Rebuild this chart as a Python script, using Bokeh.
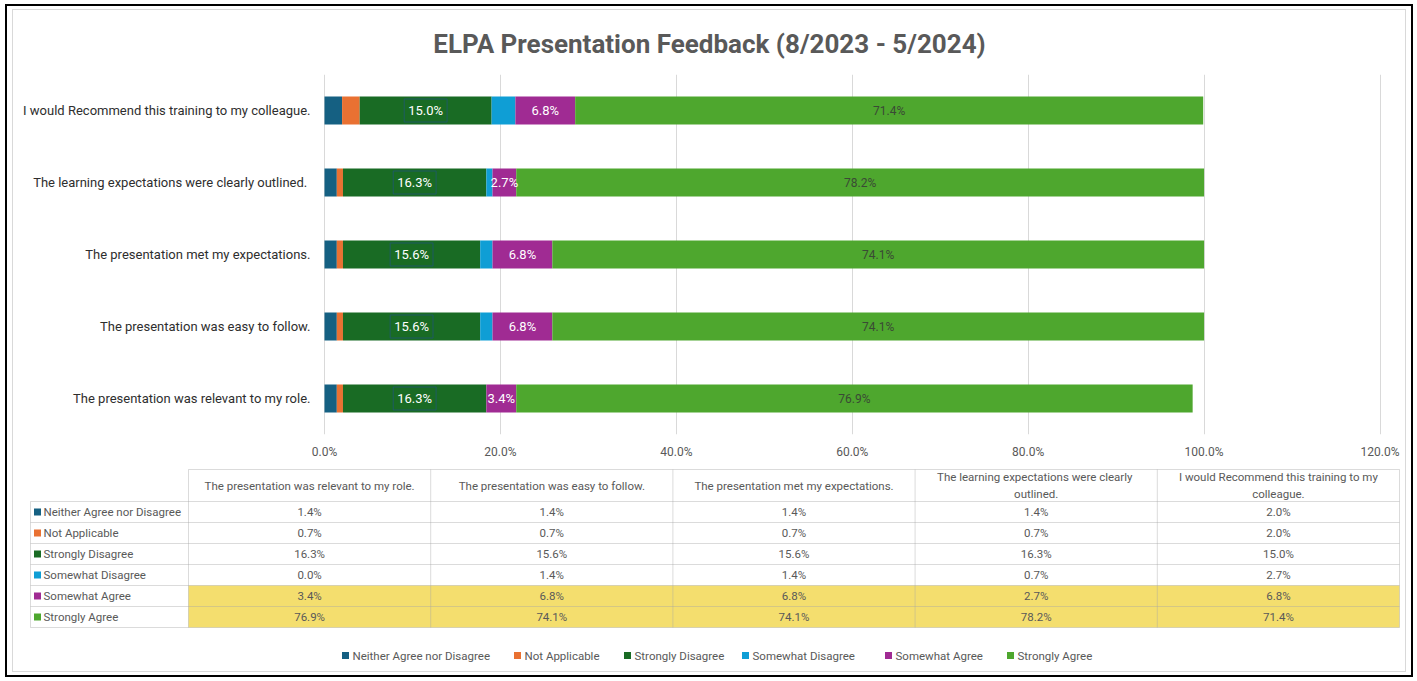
from bokeh.plotting import figure
from bokeh.layouts import column
from bokeh.models import ColumnDataSource, FactorRange, Range1d, FixedTicker, PrintfTickFormatter
from bokeh.core.properties import value
from bokeh.embed import file_html
from bokeh.resources import INLINE

# ---------------- data ----------------
questions = [
    "The presentation was relevant to my role.",
    "The presentation was easy to follow.",
    "The presentation met my expectations.",
    "The learning expectations  were clearly outlined.",
    "I would Recommend this training to my colleague.",
]
header_labels = [
    "The presentation was relevant to my role.",
    "The presentation was easy to follow.",
    "The presentation met my expectations.",
    "The learning expectations  were clearly\noutlined.",
    "I would Recommend this training to my\ncolleague.",
]
series = ["Neither Agree nor Disagree", "Not Applicable", "Strongly Disagree",
          "Somewhat Disagree", "Somewhat Agree", "Strongly Agree"]
neither = [1.4, 1.4, 1.4, 1.4, 2.0]
not_applicable = [0.7, 0.7, 0.7, 0.7, 2.0]
strongly_disagree = [16.3, 15.6, 15.6, 16.3, 15.0]
somewhat_disagree = [0.0, 1.4, 1.4, 0.7, 2.7]
somewhat_agree = [3.4, 6.8, 6.8, 2.7, 6.8]
strongly_agree = [76.9, 74.1, 74.1, 78.2, 71.4]
colors = ["#156082", "#E97132", "#196B24", "#0F9ED5", "#A02B93", "#4EA72E"]
x_ticks = [0, 20, 40, 60, 80, 100, 120]
title_text = "ELPA Presentation Feedback (8/2023 - 5/2024)"

values = [neither, not_applicable, strongly_disagree, somewhat_disagree, somewhat_agree, strongly_agree]
keys = ["s0", "s1", "s2", "s3", "s4", "s5"]

FONT = "Roboto"
GREY = "#595959"

# ---------------- layout (page pixels) ----------------
X0, X1 = 13, 1405          # content left / right
Y0, Y1 = 10, 671           # content top / bottom
SPLIT = 462                # boundary between chart and table
W = X1 - X0
PX0, PX120 = 324.0, 1379.5  # where 0 % and 120 % sit
k = (PX120 - PX0) / 120.0

# ---------------- bar chart ----------------
top = figure(width=W, height=SPLIT - Y0, y_range=FactorRange(*questions),
             x_range=Range1d(-(PX0 - X0) / k, 120 + (X1 - PX120) / k),
             output_backend="svg", toolbar_location=None,
             min_border_left=0, min_border_right=0, min_border_top=74 - Y0,
             min_border_bottom=SPLIT - 434)
top.outline_line_color = None
top.title.text = title_text
top.title.text_font = FONT
top.title.text_font_size = "26px"
top.title.text_font_style = "bold"
top.title.text_color = GREY
top.title.align = "center"
top.title.vertical_align = "top"
top.title.standoff = 27

src = ColumnDataSource(dict(q=questions, **{kk: v for kk, v in zip(keys, values)}))
top.hbar_stack(keys, y="q", height=0.39, color=colors, line_color=None, source=src)

# data labels (Strongly Disagree, Somewhat Agree, Strongly Agree)
cum = [[0.0] * len(questions)]
for v in values:
    cum.append([a + b for a, b in zip(cum[-1], v)])

def centers(i):
    return [(a + b) / 2 for a, b in zip(cum[i], cum[i + 1])]

def labels(i):
    return ["%.1f%%" % x for x in values[i]]

top.text(x=centers(2), y=questions, text=labels(2), text_align="center", text_baseline="middle",
         text_font=value(FONT), text_font_size="13px", text_color="#FFFFFF",
         border_line_color="#1F5A6A", border_line_alpha=0.9, padding=4)
top.text(x=centers(4), y=questions, text=labels(4), text_align="center", text_baseline="middle",
         text_font=value(FONT), text_font_size="13px", text_color="#FFFFFF")
top.text(x=centers(5), y=questions, text=labels(5), text_align="center", text_baseline="middle",
         text_font=value(FONT), text_font_size="12px", text_color="#3A4A35")

top.xaxis.ticker = FixedTicker(ticks=x_ticks)
top.xaxis.formatter = PrintfTickFormatter(format="%.1f%%")
top.xaxis.axis_line_color = None
top.xaxis.major_tick_line_color = None
top.xaxis.minor_tick_line_color = None
top.xaxis.major_label_standoff = 4
top.xaxis.major_label_text_font = FONT
top.xaxis.major_label_text_font_size = "12px"
top.xaxis.major_label_text_color = GREY

top.yaxis.fixed_location = 0
top.yaxis.axis_line_color = None
top.yaxis.major_tick_line_color = None
top.yaxis.major_label_standoff = 8
top.yaxis.major_label_text_font = FONT
top.yaxis.major_label_text_font_size = "13px"
top.yaxis.major_label_text_color = "#2E2E2E"

top.ygrid.visible = False
top.xgrid.ticker = FixedTicker(ticks=x_ticks)
top.xgrid.grid_line_color = "#D9D9D9"

# ---------------- data table + legend (page pixel coordinates) ----------------
bot = figure(width=W, height=Y1 - SPLIT, x_range=Range1d(X0, X1), y_range=Range1d(Y1, SPLIT),
             x_axis_location=None, y_axis_location=None, min_border=0,
             output_backend="svg", toolbar_location=None)
bot.outline_line_color = None
bot.grid.visible = False

label_left = 30
col_w = 242.2
col_edges = [188 + col_w * i for i in range(6)]
header_top, header_bottom = 469, 501
row_h = 21
row_edges = [header_bottom + row_h * i for i in range(7)]
tbl_right = col_edges[-1]

# highlighted rows (Somewhat Agree, Strongly Agree)
bot.quad(left=[col_edges[0]], right=[tbl_right], top=[row_edges[4]], bottom=[row_edges[6]],
         fill_color="#F4DE6E", line_color=None)

# grid lines
hx0 = [col_edges[0]] + [label_left] * 7
hx1 = [tbl_right] * 8
hy = [header_top] + row_edges
bot.segment(x0=hx0, y0=hy, x1=hx1, y1=hy, line_color="#A6A6A6", line_alpha=0.4, line_width=1)
vx = [label_left] + col_edges
vy0 = [header_bottom] + [header_top] * 6
vy1 = [row_edges[-1]] * 7
bot.segment(x0=vx, y0=vy0, x1=vx, y1=vy1, line_color="#A6A6A6", line_alpha=0.4, line_width=1)

col_centers = [(col_edges[i] + col_edges[i + 1]) / 2 for i in range(5)]
row_centers = [(row_edges[i] + row_edges[i + 1]) / 2 for i in range(6)]

bot.text(x=col_centers, y=[(header_top + header_bottom) / 2] * 5, text=header_labels,
         text_align="center", text_baseline="middle", text_font=value(FONT),
         text_font_size="11.5px", text_color=GREY, text_line_height=1.25)

cx, cy, ct = [], [], []
for si, vals in enumerate(values):
    for qi, v in enumerate(vals):
        cx.append(col_centers[qi])
        cy.append(row_centers[si])
        ct.append("%.1f%%" % v)
bot.text(x=cx, y=cy, text=ct, text_align="center", text_baseline="middle",
         text_font=value(FONT), text_font_size="11.5px", text_color=GREY)

# row labels with colour keys
bot.scatter(x=[label_left + 7] * 6, y=row_centers, marker="square", size=7,
            fill_color=colors, line_color=None)
bot.text(x=[label_left + 13] * 6, y=row_centers, text=series, text_align="left",
         text_baseline="middle", text_font=value(FONT), text_font_size="11.5px", text_color=GREY)

# legend
legend_x = [341, 513, 623, 741, 884, 1006]
legend_y = 655
bot.scatter(x=[x + 4 for x in legend_x], y=[legend_y] * 6, marker="square", size=7,
            fill_color=colors, line_color=None)
bot.text(x=[x + 11 for x in legend_x], y=[legend_y] * 6, text=series, text_align="left",
         text_baseline="middle", text_font=value(FONT), text_font_size="11.5px", text_color=GREY)

inner = column(top, bot, styles={"border": "1px solid #D9D9D9", "background-color": "#FFFFFF"})
outer = column(inner, margin=(4, 0, 0, 5),
               styles={"border": "2px solid #000000", "padding": "3px 5px 3px 5px",
                       "background-color": "#FFFFFF"})

open("out.html", "w").write(file_html(outer, INLINE))
